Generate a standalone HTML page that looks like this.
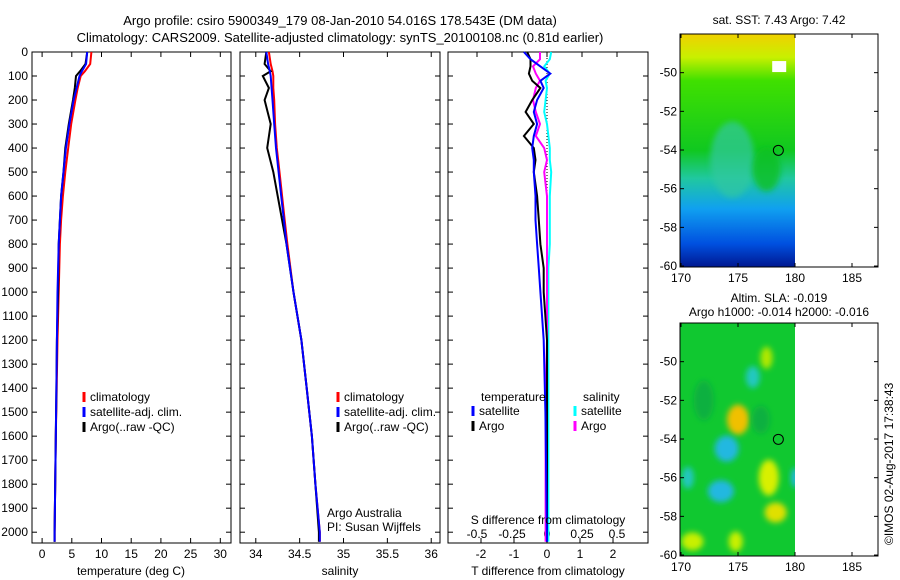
<!DOCTYPE html>
<html><head><meta charset="utf-8"><style>
body{margin:0;background:#fff;}
svg{display:block;font-family:"Liberation Sans",sans-serif;font-size:12px;}
</style></head><body>
<svg id="c" width="900" height="580" xmlns="http://www.w3.org/2000/svg">
<defs><filter id="bl" x="-50%" y="-50%" width="200%" height="200%"><feGaussianBlur stdDeviation="3"/></filter></defs>
<text x="340" y="25" text-anchor="middle" font-size="13">Argo profile: csiro 5900349_179 08-Jan-2010 54.016S 178.543E (DM data)</text>
<text x="340" y="42" text-anchor="middle" font-size="13">Climatology: CARS2009. Satellite-adjusted climatology: synTS_20100108.nc (0.81d earlier)</text>
<g id="maps"></g>
<g id="panels"></g>
</svg>
<script>
const depths=[0,50,80,100,150,200,300,400,500,600,700,800,1000,1200,1400,1600,1800,2000,2040];
const tClim=[8.3,8.1,7.2,6.5,6.0,5.6,4.9,4.4,3.9,3.5,3.2,3.0,2.8,2.6,2.45,2.3,2.2,2.1,2.1];
const tSat=[7.6,7.4,6.7,6.3,5.8,5.3,4.6,4.0,3.6,3.2,3.0,2.8,2.6,2.5,2.4,2.3,2.2,2.1,2.1];
const tArgo=[7.6,7.3,6.4,5.7,5.5,5.2,4.5,3.9,3.6,3.2,3.0,2.8,2.7,2.5,2.4,2.3,2.2,2.1,2.1];
const sClim=[34.15,34.17,34.19,34.2,34.2,34.21,34.22,34.24,34.27,34.3,34.33,34.36,34.43,34.52,34.58,34.64,34.68,34.73,34.73];
const sSat=[34.12,34.14,34.16,34.17,34.18,34.19,34.21,34.23,34.26,34.29,34.32,34.35,34.43,34.52,34.58,34.64,34.68,34.73,34.73];
const sArgo=[34.12,34.1,34.17,34.08,34.15,34.1,34.17,34.13,34.2,34.25,34.3,34.35,34.43,34.52,34.58,34.64,34.68,34.72,34.72];
const dDepth=[0,30,60,90,120,150,200,250,300,350,400,450,500,600,700,800,900,1000,1200,1500,2040];
const dTSat=[-0.7,-0.5,-0.2,0.1,-0.2,-0.1,-0.3,-0.4,-0.3,-0.4,-0.45,-0.4,-0.4,-0.35,-0.35,-0.3,-0.25,-0.2,-0.1,-0.05,0];
const dTArgo=[-0.6,-0.5,-0.5,-0.55,-0.45,-0.2,-0.45,-0.65,-0.4,-0.7,-0.4,-0.35,-0.4,-0.3,-0.25,-0.2,-0.1,-0.1,0,0,0];
const dSSat=[0.03,0.02,-0.02,0.02,-0.01,0,-0.01,-0.02,0.0,0.01,0.02,0.02,0.03,0.02,0.02,0.02,0.01,0.01,0.01,0.01,0.01];
const dSArgo=[-0.05,-0.05,-0.1,-0.08,-0.05,-0.08,-0.1,-0.08,-0.05,-0.08,-0.02,0,-0.02,0,0,0,0,0,0,-0.01,-0.01];
const tTicks=[0,5,10,15,20,25,30];
const sTicks=[34,34.5,35,35.5,36];
const dTTicks=[-2,-1,0,1,2];
const dSTicks=[-0.5,-0.25,0,0.25,0.5];
const zTicks=[0,100,200,300,400,500,600,700,800,900,1000,1100,1200,1300,1400,1500,1600,1700,1800,1900,2000];
const lonTicks=[170,175,180,185];
const latTicks=[-50,-52,-54,-56,-58,-60];

const NS='http://www.w3.org/2000/svg';
function mk(p,tag,at,txt){const e=document.createElementNS(NS,tag);for(const k in at)e.setAttribute(k,at[k]);if(txt!==undefined)e.textContent=txt;p.appendChild(e);return e;}
const P=document.getElementById('panels');
const top0=52,bot0=543;
const yD=d=>top0+(d/2045)*(bot0-top0);

function panel(x0,x1,xmin,xmax,name){
  const g=mk(P,'g',{});
  
  
  mk(g,'rect',{x:x0,y:top0,width:x1-x0,height:bot0-top0,fill:'#fff',stroke:'#000'});
  const xs=v=>x0+(v-xmin)/(xmax-xmin)*(x1-x0);
  zTicks.forEach(z=>{const y=yD(z);mk(g,'line',{x1:x0,x2:x0+5,y1:y,y2:y,stroke:'#000'});mk(g,'line',{x1:x1,x2:x1-5,y1:y,y2:y,stroke:'#000'});});
  return {g,xs};
}
function line(g,xs,xv,yv,col,nm,w){
  const pts=xv.map((v,i)=>xs(v).toFixed(1)+','+yD(yv[i]).toFixed(1)).join(' ');
  const e=mk(g,'polyline',{points:pts,fill:'none',stroke:col,'stroke-width':w||2});
  
  
}
function legend(g,x,y,items){
  items.forEach((it,i)=>{mk(g,'line',{x1:x,x2:x,y1:y+i*15-9,y2:y+i*15+1,stroke:it[1],'stroke-width':3});
    const t=mk(g,'text',{x:x+6,y:y+i*15},it[0]);
    
    });
}
zTicks.forEach(z=>{const t=mk(P,'text',{x:28,y:yD(z)+4,'text-anchor':'end'},z);
  });

let p=panel(32,231,-1.7,31.8,'temperature-panel');
tTicks.forEach(v=>{mk(p.g,'line',{x1:p.xs(v),x2:p.xs(v),y1:bot0,y2:bot0-5,stroke:'#000'});mk(p.g,'line',{x1:p.xs(v),x2:p.xs(v),y1:top0,y2:top0+5,stroke:'#000'});mk(p.g,'text',{x:p.xs(v),y:bot0+15,'text-anchor':'middle'},v);});
line(p.g,p.xs,tClim,depths,'#f00','temp-climatology-line');
line(p.g,p.xs,tArgo,depths,'#000','temp-argo-line');
line(p.g,p.xs,tSat,depths,'#00f','temp-satellite-line');
legend(p.g,84,401,[['climatology','#f00'],['satellite-adj. clim.','#00f'],['Argo(..raw -QC)','#000']]);
mk(p.g,'text',{x:131,y:575,'text-anchor':'middle'},'temperature (deg C)');

p=panel(240,440,33.82,36.1,'salinity-panel');
sTicks.forEach(v=>{mk(p.g,'line',{x1:p.xs(v),x2:p.xs(v),y1:bot0,y2:bot0-5,stroke:'#000'});mk(p.g,'line',{x1:p.xs(v),x2:p.xs(v),y1:top0,y2:top0+5,stroke:'#000'});mk(p.g,'text',{x:p.xs(v),y:bot0+15,'text-anchor':'middle'},v);});
line(p.g,p.xs,sClim,depths,'#f00','sal-climatology-line');
line(p.g,p.xs,sArgo,depths,'#000','sal-argo-line');
line(p.g,p.xs,sSat,depths,'#00f','sal-satellite-line');
legend(p.g,338,401,[['climatology','#f00'],['satellite-adj. clim.','#00f'],['Argo(..raw -QC)','#000']]);
mk(p.g,'text',{x:327,y:517},'Argo Australia');
mk(p.g,'text',{x:327,y:531},'PI: Susan Wijffels');
mk(p.g,'text',{x:340,y:575,'text-anchor':'middle'},'salinity');

p=panel(448,648,-3.0,3.06,'difference-panel');
const xsS=v=>547+v*140;
dTTicks.forEach(v=>{mk(p.g,'line',{x1:p.xs(v),x2:p.xs(v),y1:bot0,y2:bot0-5,stroke:'#000'});mk(p.g,'text',{x:p.xs(v),y:bot0+15,'text-anchor':'middle'},v);});
dSTicks.forEach(v=>{mk(p.g,'line',{x1:xsS(v),x2:xsS(v),y1:top0,y2:top0+5,stroke:'#000'});mk(p.g,'text',{x:xsS(v),y:538,'text-anchor':'middle'},v);});
mk(p.g,'line',{x1:547,x2:547,y1:top0,y2:bot0,stroke:'#000','stroke-dasharray':'1,2'});
line(p.g,xsS,dSSat,dDepth,'#0ff','sal-diff-satellite-line');
line(p.g,xsS,dSArgo,dDepth,'#f0f','sal-diff-argo-line');
line(p.g,p.xs,dTArgo,dDepth,'#000','temp-diff-argo-line');
line(p.g,p.xs,dTSat,dDepth,'#00f','temp-diff-satellite-line');
mk(p.g,'text',{x:481,y:401},'temperature');
mk(p.g,'text',{x:583,y:401},'salinity');
legend(p.g,473,415,[['satellite','#00f'],['Argo','#000']]);
legend(p.g,575,415,[['satellite','#0ff'],['Argo','#f0f']]);
mk(p.g,'text',{x:548,y:524,'text-anchor':'middle'},'S difference from climatology');
mk(p.g,'text',{x:548,y:575,'text-anchor':'middle'},'T difference from climatology');

const M=document.getElementById('maps');
function map(y0,y1,name,blobs,bg){
  const g=mk(M,'g',{});
  
  
  const x0=680,x1=878,lon=v=>681+(v-170)*11.4,lat=v=>y0+(-48-v)/(-48+60.05)*(y1-y0);
  mk(g,'rect',{x:x0,y:y0,width:115,height:y1-y0,fill:bg});
  const cg=mk(g,'g',{'clip-path':'url(#cp'+y0+')'});
  const cp=mk(g,'clipPath',{id:'cp'+y0});mk(cp,'rect',{x:x0,y:y0,width:115,height:y1-y0});
  blobs(cg,lon,lat);
  mk(g,'rect',{x:x0,y:y0,width:x1-x0,height:y1-y0,fill:'none',stroke:'#000'});
  lonTicks.forEach(v=>{mk(g,'line',{x1:lon(v),x2:lon(v),y1:y1,y2:y1-4,stroke:'#000'});mk(g,'line',{x1:lon(v),x2:lon(v),y1:y0,y2:y0+4,stroke:'#000'});mk(g,'text',{x:lon(v),y:y1+15,'text-anchor':'middle'},v);});
  latTicks.forEach(v=>{mk(g,'line',{x1:x0,x2:x0+4,y1:lat(v),y2:lat(v),stroke:'#000'});mk(g,'line',{x1:x1,x2:x1-4,y1:lat(v),y2:lat(v),stroke:'#000'});mk(g,'text',{x:x0-3,y:lat(v)+4,'text-anchor':'end'},v);});
  const c=mk(g,'circle',{cx:lon(178.54),cy:lat(-54.016),r:5,fill:'none',stroke:'#000'});
  
  
}
map(34,267,'sst-map',(g,lon,lat)=>{
  const d=mk(g,'defs',{});
  const lg=mk(d,'linearGradient',{id:'sg',x1:0,y1:0,x2:0,y2:1});
  [[0,'#f0d000'],[0.1,'#c8f000'],[0.2,'#40e000'],[0.5,'#10c820'],[0.62,'#20c8a0'],[0.75,'#10a0f0'],[0.9,'#0050e0'],[1,'#001890']].forEach(s=>mk(lg,'stop',{offset:s[0],'stop-color':s[1]}));
  mk(g,'rect',{x:680,y:34,width:115,height:233,fill:'url(#sg)'});
  mk(g,'ellipse',{cx:lon(174.5),cy:lat(-54.5),rx:22,ry:38,fill:'#30c8a0',opacity:0.7,filter:'url(#bl)'});
  mk(g,'ellipse',{cx:lon(177.5),cy:lat(-55),rx:14,ry:22,fill:'#10c020',opacity:0.8,filter:'url(#bl)'});
  mk(g,'rect',{x:lon(178),y:lat(-49.4),width:14,height:11,fill:'#fff'});
},'#20c020');
map(323,556,'sla-map',(g,lon,lat)=>{
  [[175,-53,11,15,'#f0c000'],[177.7,-56,10,18,'#d8f000'],[178.3,-57.8,11,10,'#e0e000'],[176.3,-50.8,7,11,'#20c8c0'],[174,-54.5,12,13,'#20b8e0'],[173.5,-56.7,13,11,'#20b8e0'],[170.6,-56,6,11,'#20c8c0'],[177.5,-49.8,6,11,'#b0e800'],[171,-59.3,11,9,'#c8f000'],[174.8,-59.3,7,10,'#c8f000'],[180,-56,4,10,'#20b8e0'],[172,-52,10,20,'#10b040'],[177,-53,9,14,'#10b040']].forEach(b=>{
    mk(g,'ellipse',{cx:lon(b[0]),cy:lat(b[1]),rx:b[2],ry:b[3],fill:b[4],filter:'url(#bl)'});});
},'#10c830');
mk(M,'text',{x:779,y:24,'text-anchor':'middle'},'sat. SST: 7.43 Argo: 7.42');
mk(M,'text',{x:779,y:302,'text-anchor':'middle'},'Altim. SLA: -0.019');
mk(M,'text',{x:779,y:316,'text-anchor':'middle'},'Argo h1000: -0.014 h2000: -0.016');
mk(M,'text',{x:0,y:0,transform:'translate(893,545) rotate(-90)'},'©IMOS 02-Aug-2017 17:38:43');
</script>
</body></html>
